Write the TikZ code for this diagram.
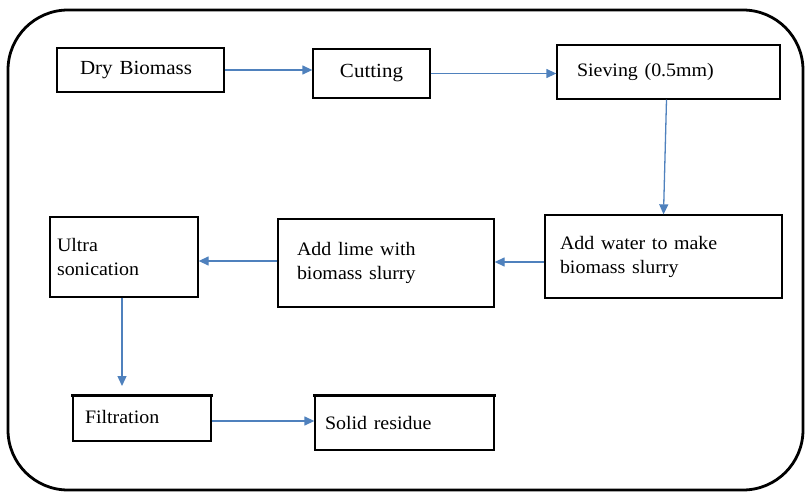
\documentclass[tikz,border=0pt]{standalone}
\usepackage{fontspec}
\setmainfont{Liberation Serif}
\usetikzlibrary{arrows.meta}
\definecolor{flowblue}{HTML}{4F81BD}
\newcommand{\wide}[1]{\scalebox{1.05}[1]{#1}}
\tikzset{
  stepbox/.style={draw=black, line width=1.3pt, rectangle, inner ysep=0pt,
    align=left, font=\fontsize{19}{24}\selectfont},
  flow/.style={draw=flowblue, line width=1.3pt,
    -{Triangle[length=10pt,width=9pt]}},
  heavytop/.style={line width=3pt, line cap=rect},
}
\begin{document}
\begin{tikzpicture}[x=1pt, y=-1pt]
\useasboundingbox (0,0) rectangle (806,495);

% outer frame
\draw[line width=2.8pt, rounded corners=60pt] (8,10) rectangle (803,490);

% process steps
\node[stepbox, minimum width=167pt, minimum height=44pt, text width=121pt,
      inner xsep=23pt, font=\fontsize{20}{24}\selectfont] (dry) at (140.5,70) {\wide{Dry Biomass}};
\node[stepbox, minimum width=117pt, minimum height=49pt, text width=97pt,
      inner xsep=10pt, align=center, font=\fontsize{20}{24}\selectfont] (cut) at (371.5,73.5) {\wide{Cutting}};
\node[stepbox, minimum width=223pt, minimum height=54pt, text width=183pt,
      inner xsep=20pt] (sieve) at (668.5,72) {\wide{Sieving (0.5mm)}};
\node[stepbox, minimum width=237pt, minimum height=83pt, text width=207pt,
      inner xsep=15pt] (water) at (663.5,256.5) {\wide{Add water to make}\\\wide{biomass slurry}};
\node[stepbox, minimum width=216pt, minimum height=88pt, text width=178pt,
      inner xsep=19pt] (lime) at (386,263) {\raisebox{-3pt}{\wide{Add lime with}}\\\raisebox{-3pt}{\wide{biomass slurry}}};
\node[stepbox, minimum width=148pt, minimum height=80pt, text width=134pt,
      inner xsep=7pt] (ultra) at (124,257) {\raisebox{-4pt}{\wide{Ultra}}\\\raisebox{-4pt}{\wide{sonication}}};
\node[stepbox, minimum width=138pt, minimum height=45pt, text width=114pt,
      inner xsep=12pt] (filt) at (142,418.5) {\raisebox{4pt}{\wide{Filtration}}};
\node[stepbox, minimum width=179pt, minimum height=54pt, text width=159pt,
      inner xsep=10pt] (solid) at (404.5,423) {\wide{Solid residue}};

% heavier top edges
\draw[heavytop] (filt.north west) -- (filt.north east);
\draw[heavytop] (solid.north west) -- (solid.north east);

% connectors
\coordinate (filtin) at (122,386);
\draw[flow] (dry.east) -- (dry.east -| cut.west);
\draw[flow] (cut.east) -- (cut.east -| sieve.west);
\draw[flow] ([xshift=-2pt]sieve.south) -- (water.north);
\draw[flow] ([yshift=-5.5pt]water.west) -- ([yshift=-5.5pt]water.west -| lime.east);
\draw[flow] ([yshift=2pt]lime.west) -- ([yshift=2pt]lime.west -| ultra.east);
\draw[flow] ([xshift=-2pt]ultra.south) -- (filtin);
\draw[flow] ([yshift=-2.5pt]filt.east) -- ([yshift=-2.5pt]filt.east -| solid.west);
\end{tikzpicture}
\end{document}
